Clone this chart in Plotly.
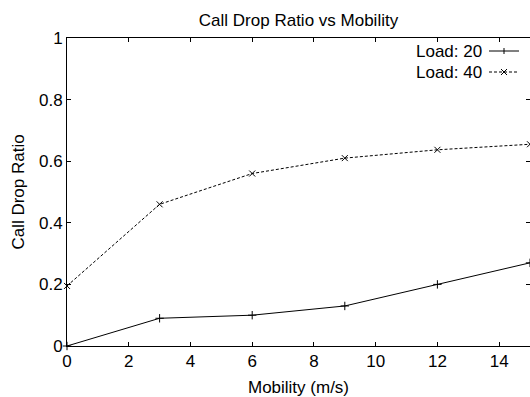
import plotly.graph_objects as go

mobility = [0, 3, 6, 9, 12, 15]
load20 = [0.0, 0.09, 0.10, 0.13, 0.20, 0.27]
load40 = [0.195, 0.46, 0.56, 0.61, 0.637, 0.655]
series_names = ["Load: 20", "Load: 40"]
x_ticks = [0, 2, 4, 6, 8, 10, 12, 14]
y_ticks = [0, 0.2, 0.4, 0.6, 0.8, 1]
y_tick_text = ["0", "0.2", "0.4", "0.6", "0.8", "1"]

FONT = "Liberation Sans, Arial, Helvetica, sans-serif"
FS = 17

L, R, T, B = 67, 0, 38, 51
W, H = 530, 397
PW, PH = W - L - R, H - T - B

fig = go.Figure()
fig.add_trace(go.Scatter(
    x=mobility, y=load20, mode="lines+markers", name=series_names[0],
    line=dict(color="black", width=1),
    marker=dict(symbol="cross-thin", size=6, line=dict(color="black", width=1)),
    showlegend=False, cliponaxis=False))
fig.add_trace(go.Scatter(
    x=mobility, y=load40, mode="lines+markers", name=series_names[1],
    line=dict(color="black", width=1, dash="3px,2px"),
    marker=dict(symbol="x-thin", size=6, line=dict(color="black", width=1)),
    showlegend=False, cliponaxis=False))

# manual legend (text left, sample right, as in the reference)
leg_px_y = [51, 72]
for i, (name, py) in enumerate(zip(series_names, leg_px_y)):
    yy = (T + PH - py) / PH
    fig.add_annotation(xref="paper", yref="paper", x=(484 - L) / PW, y=yy, text=name,
                       showarrow=False, xanchor="right", yanchor="middle",
                       font=dict(family=FONT, size=FS, color="black"))
    fig.add_shape(type="line", xref="paper", yref="paper",
                  x0=(489 - L) / PW, x1=(519 - L) / PW, y0=yy, y1=yy,
                  line=dict(color="black", width=1, dash="solid" if i == 0 else "3px,2px"))
    cx = (504 - L) / PW
    dx = 3 / PW
    dy = 3 / PH
    if i == 0:
        fig.add_shape(type="line", xref="paper", yref="paper", x0=cx, x1=cx,
                      y0=yy - dy, y1=yy + dy, line=dict(color="black", width=1))
    else:
        fig.add_shape(type="line", xref="paper", yref="paper", x0=cx - dx, x1=cx + dx,
                      y0=yy - dy, y1=yy + dy, line=dict(color="black", width=1))
        fig.add_shape(type="line", xref="paper", yref="paper", x0=cx - dx, x1=cx + dx,
                      y0=yy + dy, y1=yy - dy, line=dict(color="black", width=1))

axis_common = dict(showgrid=False, zeroline=False, showline=True, linecolor="black",
                   linewidth=1, mirror="ticks", ticks="inside", ticklen=4,
                   tickcolor="black", tickfont=dict(family=FONT, size=FS, color="black"))

fig.update_xaxes(range=[0, 15], tickvals=x_ticks,
                 title=dict(text="Mobility (m/s)", font=dict(family=FONT, size=FS, color="black"),
                            standoff=10),
                 **axis_common)
fig.update_yaxes(range=[0, 1], tickvals=y_ticks, ticktext=y_tick_text,
                 title=dict(text="Call Drop Ratio", font=dict(family=FONT, size=FS, color="black"),
                            standoff=10),
                 **axis_common)

fig.update_layout(
    width=W, height=H,
    margin=dict(l=L, r=R, t=T, b=B),
    paper_bgcolor="white", plot_bgcolor="white",
    title=dict(text="Call Drop Ratio vs Mobility", x=(L + PW / 2) / W, xanchor="center",
               y=1 - 20 / H, yanchor="middle",
               font=dict(family=FONT, size=FS, color="black")),
    font=dict(family=FONT, size=FS, color="black"),
)

fig.write_html("out.html")
